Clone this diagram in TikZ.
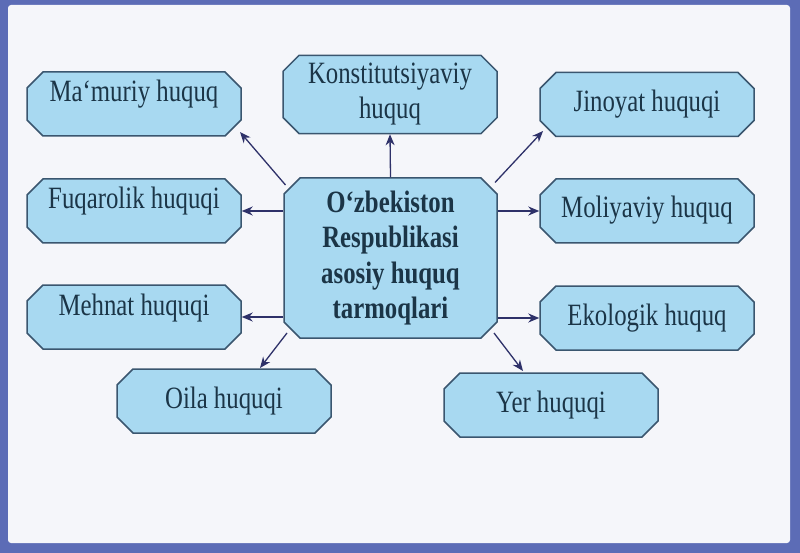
\documentclass[tikz,border=0pt]{standalone}
\usepackage{fontspec}
\setmainfont{Liberation Serif}[FakeStretch=0.8]
\usetikzlibrary{shapes.misc,arrows.meta}
\definecolor{frameblue}{HTML}{5C6CB6}
\definecolor{bgc}{HTML}{F5F6FA}
\definecolor{boxfill}{HTML}{A8D9F1}
\definecolor{boxline}{HTML}{3A566F}
\definecolor{txt}{HTML}{1B3547}
\definecolor{arr}{HTML}{2E3169}
\begin{document}
\begin{tikzpicture}[x=1pt,y=-1pt,
  box/.style={chamfered rectangle, chamfered rectangle sep=8pt, draw=boxline,
    line width=1.5pt, fill=boxfill, text=txt, minimum width=214pt,
    minimum height=64pt, inner sep=0pt, font=\fontsize{31}{35}\selectfont, align=center},
  hi/.style={text height=22pt, text depth=26pt},
  lo/.style={text height=22pt, text depth=8pt},
  conn/.style={draw=arr, line width=1.3pt, -{Stealth[length=11pt,width=9pt]}}]
\useasboundingbox (0,0) rectangle (800,553);
\fill[frameblue] (0,0) rectangle (800,553);
\fill[bgc, rounded corners=3pt] (8,5) rectangle (790,543);

\node[box, minimum width=213pt, minimum height=160pt,
  font=\bfseries\fontsize{31}{35.5}\selectfont] (c) at (390.5,258)
  {O‘zbekiston\\Respublikasi\\asosiy huquq\\tarmoqlari};

\node[box, minimum height=75pt] (k) at (390,94.5) {Konstitutsiyaviy\\huquq};
\node[box, hi] (m) at (134,104) {Ma‘muriy huquq};
\node[box, hi] (f) at (134,211) {Fuqarolik huquqi};
\node[box, hi] (h) at (134,317) {Mehnat huquqi};
\node[box, lo] (j) at (647,104.5) {Jinoyat huquqi};
\node[box, lo] (l) at (647,211) {Moliyaviy huquq};
\node[box, lo] (e) at (647,318) {Ekologik huquq};
\node[box, lo] (o) at (224,401) {Oila huquqi};
\node[box, lo] (y) at (551,405) {Yer huquqi};

\draw[conn] (c.north) -- (k.south);
\draw[conn] ([shift={(-105,-73)}]c.center) -- ([shift={(106,28)}]m.center);
\draw[conn] ([shift={(104.5,-75.5)}]c.center) -- ([shift={(-104,26.5)}]j.center);
\draw[conn] (c.west |- f.east) -- (f.east);
\draw[conn] (c.west |- h.east) -- (h.east);
\draw[conn] (c.east |- l.west) -- (l.west);
\draw[conn] (c.east |- e.west) -- (e.west);
\draw[conn] ([shift={(-103.5,75)}]c.center) -- ([shift={(36,-33)}]o.center);
\draw[conn] ([shift={(103.5,75)}]c.center) -- ([shift={(-28,-34)}]y.center);
\end{tikzpicture}
\end{document}
